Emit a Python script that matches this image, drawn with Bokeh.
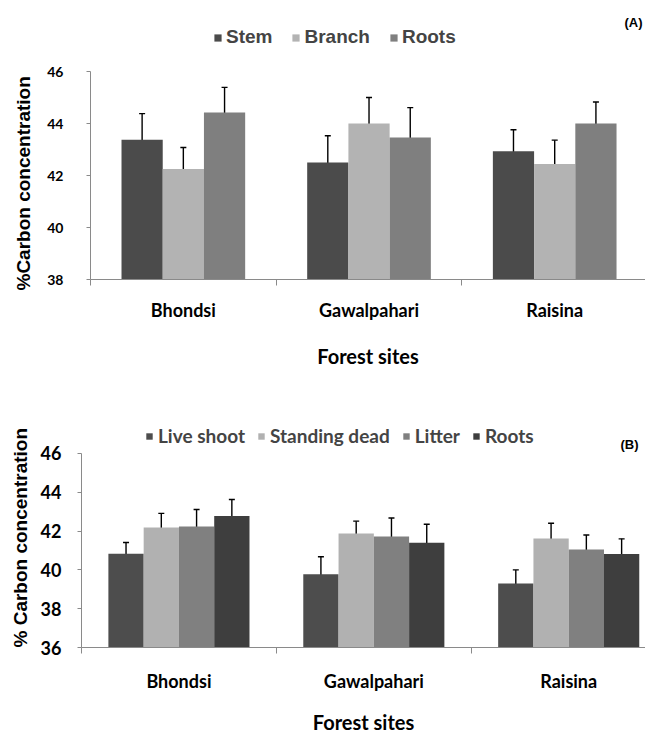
from bokeh.plotting import figure
from bokeh.models import (ColumnDataSource, Whisker, TeeHead, FixedTicker, Legend,
                          LegendItem, Label, Range1d, LinearAxis, Title)
from bokeh.layouts import column
from bokeh.embed import file_html
from bokeh.resources import INLINE

# ---------------- data ----------------
sites = ["Bhondsi", "Gawalpahari", "Raisina"]

a_series = ["Stem", "Branch", "Roots"]
a_stem = [43.38, 42.50, 42.93]
a_branch = [42.25, 44.00, 42.44]
a_roots = [44.42, 43.46, 44.00]
a_stem_err = [1.00, 1.03, 0.83]
a_branch_err = [0.83, 1.00, 0.92]
a_roots_err = [0.97, 1.15, 0.83]
a_yticks = [38, 40, 42, 44, 46]

b_series = ["Live shoot", "Standing dead", "Litter", "Roots"]
b_live = [40.83, 39.78, 39.30]
b_dead = [42.19, 41.88, 41.62]
b_litter = [42.24, 41.72, 41.05]
b_roots = [42.78, 41.40, 40.82]
b_live_err = [0.58, 0.90, 0.70]
b_dead_err = [0.72, 0.63, 0.78]
b_litter_err = [0.87, 0.95, 0.75]
b_roots_err = [0.85, 0.95, 0.78]
b_yticks = [36, 38, 40, 42, 44, 46]

a_colors = ["#4b4b4b", "#b3b3b3", "#7f7f7f"]
b_colors = ["#4d4d4d", "#b1b1b1", "#808080", "#3e3e3e"]

NARROW = "Lato"
ARIAL = "Liberation Sans"
AXIS_GRAY = "#8a8a8a"


def build_panel(width, height, left, top, frame_h, xend, ymin, yaxis_max, ytop,
                yticks, series, values, errors, colors, bar_w,
                ytitle, ytitle_offset, ytitle_standoff, tick_font_size,
                tick_standoff, cat_standoff, xtitle_standoff, legend_loc,
                legend_font, legend_size, legend_spacing, legend_glyph,
                legend_standoff, tag, tag_pos):
    p = figure(width=width, height=height, x_range=Range1d(0, xend),
               y_range=Range1d(ymin, ytop), output_backend="svg",
               toolbar_location=None, x_axis_type=None, y_axis_type=None,
               min_border_left=left, min_border_right=0, min_border_top=top,
               min_border_bottom=height - top - frame_h)
    p.frame_align = False
    p.grid.visible = False
    p.outline_line_color = None
    p.background_fill_color = "white"
    p.border_fill_color = "white"

    n = len(series)
    items = []
    for k in range(n):
        off = (k - (n - 1) / 2) * bar_w
        xs = [i + 0.5 + off for i in range(len(sites))]
        vals = values[k]
        errs = errors[k]
        src = ColumnDataSource(dict(x=xs, top=vals,
                                    upper=[v + e for v, e in zip(vals, errs)],
                                    lower=[v - e for v, e in zip(vals, errs)]))
        r = p.vbar(x="x", top="top", bottom=ymin, width=bar_w, source=src,
                   fill_color=colors[k], line_color=None)
        w = Whisker(base="x", upper="upper", lower="lower", source=src,
                    line_color="black", line_width=1.4,
                    upper_head=TeeHead(size=6, line_color="black", line_width=1.4),
                    lower_head=TeeHead(size=6, line_color="black", line_width=1.4))
        p.add_layout(w)
        items.append(LegendItem(label=series[k], renderers=[r]))

    # y axis (line limited to the data span)
    ya = LinearAxis(ticker=FixedTicker(ticks=yticks), bounds=(ymin, yaxis_max))
    ya.axis_line_color = AXIS_GRAY
    ya.major_tick_line_color = AXIS_GRAY
    ya.minor_tick_line_color = None
    ya.major_tick_out = 4
    ya.major_tick_in = 0
    ya.major_label_standoff = tick_standoff
    ya.major_label_text_font = NARROW
    ya.major_label_text_font_style = "bold"
    ya.major_label_text_font_size = tick_font_size
    ya.major_label_text_color = "black"
    p.add_layout(ya, "left")

    # y axis title, anchored at the bottom of the frame
    yt = Title(text=ytitle, align="left", vertical_align="bottom",
               offset=ytitle_offset, standoff=ytitle_standoff,
               text_font=ARIAL, text_font_style="bold", text_font_size="19px",
               text_color="black")
    p.add_layout(yt, "left")

    # x axis: labels at category centres, tick marks at category boundaries
    xa = LinearAxis(ticker=FixedTicker(ticks=[i + 0.5 for i in range(len(sites))],
                                       minor_ticks=list(range(len(sites) + 1))))
    xa.major_label_overrides = {i + 0.5: s for i, s in enumerate(sites)}
    xa.axis_line_color = AXIS_GRAY
    xa.major_tick_line_color = None
    xa.major_tick_out = 0
    xa.major_tick_in = 0
    xa.minor_tick_line_color = AXIS_GRAY
    xa.minor_tick_out = 6
    xa.minor_tick_in = 0
    xa.major_label_standoff = cat_standoff
    xa.major_label_text_font = NARROW
    xa.major_label_text_font_style = "bold"
    xa.major_label_text_font_size = "18px"
    xa.major_label_text_color = "black"
    xa.axis_label = "Forest sites"
    xa.axis_label_text_font = NARROW
    xa.axis_label_text_font_style = "bold"
    xa.axis_label_text_font_size = "20px"
    xa.axis_label_text_color = "black"
    xa.axis_label_standoff = xtitle_standoff
    p.add_layout(xa, "below")

    legend = Legend(items=items, orientation="horizontal", location=legend_loc,
                    glyph_width=legend_glyph, glyph_height=legend_glyph,
                    label_standoff=legend_standoff,
                    spacing=legend_spacing, padding=0, margin=0,
                    border_line_color=None, background_fill_alpha=0,
                    label_text_font=legend_font, label_text_font_style="bold",
                    label_text_font_size=legend_size, label_height=20)
    p.add_layout(legend)

    lab = Label(x=tag_pos[0], y=tag_pos[1], x_units="screen", y_units="screen",
                text=tag, text_font=ARIAL, text_font_style="bold",
                text_font_size="13px", text_align="center",
                text_baseline="middle", text_color="black")
    p.add_layout(lab)
    return p


p1 = build_panel(width=645, height=388, left=89, top=12, frame_h=267, xend=2.989,
                 ymin=38, yaxis_max=46, ytop=48.27, yticks=a_yticks,
                 series=a_series, values=[a_stem, a_branch, a_roots],
                 errors=[a_stem_err, a_branch_err, a_roots_err],
                 colors=a_colors, bar_w=0.222, ytitle="%Carbon concentration",
                 ytitle_offset=-11, ytitle_standoff=21,
                 tick_font_size="14px", tick_standoff=23,
                 cat_standoff=13, xtitle_standoff=20, legend_loc=(123, 231),
                 legend_font=ARIAL, legend_size="19px", legend_spacing=19,
                 legend_glyph=9, legend_standoff=4,
                 tag="(A)", tag_pos=(543, 257))

p2 = build_panel(width=645, height=348, left=81, top=37, frame_h=225, xend=2.894,
                 ymin=36, yaxis_max=46, ytop=47.44, yticks=b_yticks,
                 series=b_series, values=[b_live, b_dead, b_litter, b_roots],
                 errors=[b_live_err, b_dead_err, b_litter_err, b_roots_err],
                 colors=b_colors, bar_w=0.181, ytitle="% Carbon concentration",
                 ytitle_offset=0, ytitle_standoff=14,
                 tick_font_size="18px", tick_standoff=16,
                 cat_standoff=16, xtitle_standoff=15, legend_loc=(64, 200),
                 legend_font=NARROW, legend_size="19px", legend_spacing=12,
                 legend_glyph=8, legend_standoff=5,
                 tag="(B)", tag_pos=(548, 203))

layout = column(p1, p2, spacing=0)
open("out.html", "w").write(file_html(layout, INLINE))
